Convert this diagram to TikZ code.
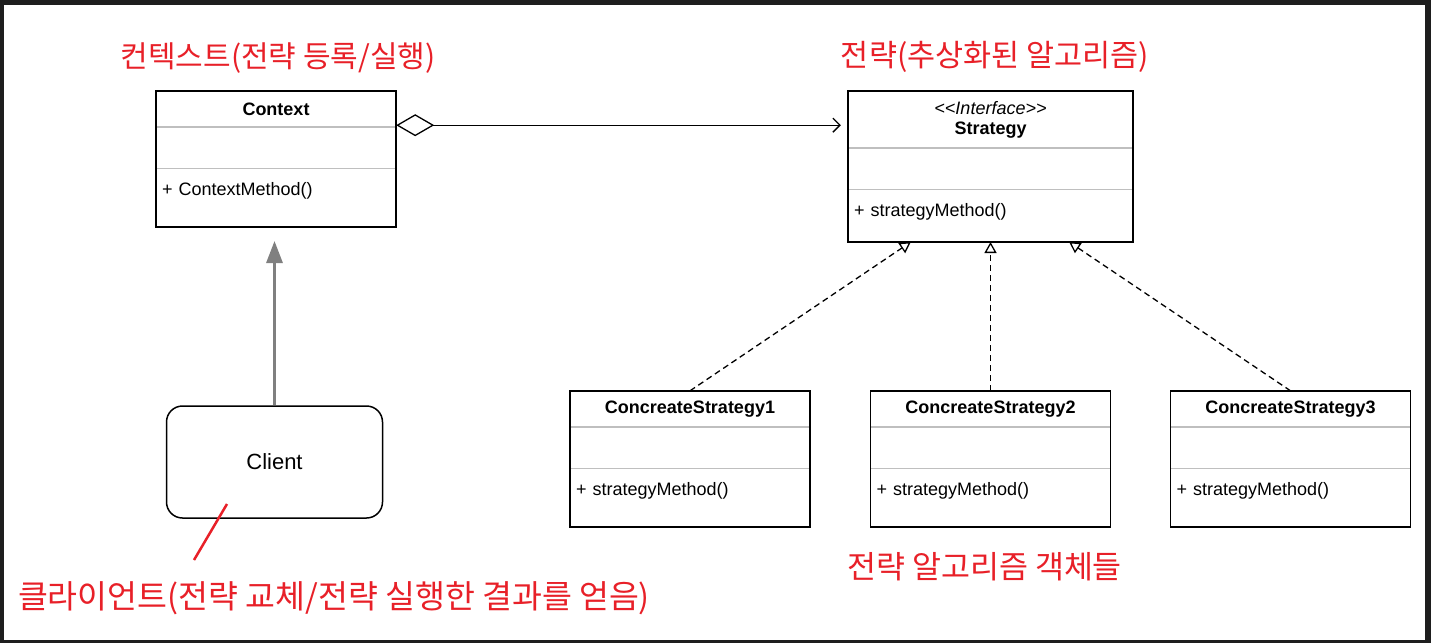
\documentclass[tikz,border=0pt]{standalone}
\usepackage{fontspec}
\setmainfont{Liberation Sans}
\newfontfamily\kofont{Noto Sans CJK KR}
\usepackage{tikz}
\usetikzlibrary{
	positioning,
	arrows.meta
}
\definecolor{penred}{RGB}{232,32,40}
\definecolor{framec}{RGB}{30,30,30}
\tikzset{
	ttl/.style={inner sep=0pt,align=center,font=\bfseries\fontsize{18}{20}\selectfont},
	attr/.style={inner sep=0pt,minimum height=41pt},
	meth/.style={inner xsep=6pt,inner ysep=0pt,align=left,text height=27pt,text depth=#1,font=\fontsize{18}{20}\selectfont},
	meth/.default=31pt,
	box/.style={draw=black,line width=1.5pt},
	sep/.style={draw=gray!50,line width=1.5pt},
	client/.style={draw=black,line width=1.5pt,rounded corners=16pt,minimum width=216pt,minimum height=112pt,font=\fontsize{22}{24}\selectfont},
	aggr/.style={line width=1.3pt,{Diamond[open,length=38pt,width=22pt]}-{Straight Barb[length=7pt,width=14pt]},shorten >=7pt},
	real/.style={line width=1.3pt,dash pattern=on 6pt off 4pt,-{Triangle[open,length=11pt,width=12pt]}},
	gen/.style={draw=gray,line width=3pt,-{Triangle[length=22pt,width=16pt]},shorten >=14pt},
	note/.style={text=penred,font=\kofont\fontsize{#1}{34}\selectfont},
	note/.default=30,
	penline/.style={draw=penred,line width=2.5pt}
}

\begin{document}
\begin{tikzpicture}[x=1pt,y=-1pt]
	\fill[framec] (0,0) rectangle (1431,643);
	\fill[white] (4,5) rectangle (1425,640);

	% Context
	\node[ttl,minimum width=240pt,minimum height=36pt] (ctxt) at (276,109) {Context};
	\node[attr,minimum width=240pt,below=0pt of ctxt] (ctxa) {};
	\node[meth,text width=228pt,below=0pt of ctxa] (ctxm) {+ ContextMethod()};
	\draw[sep] (ctxt.south west) -- (ctxt.south east) (ctxa.south west) -- (ctxa.south east);
	\draw[box] (ctxt.north west) rectangle (ctxm.south east);

	% Strategy
	\node[ttl,minimum width=285pt,minimum height=57pt] (stt) at (990.5,119.5)
		{{\mdseries\itshape <\kern0pt<Interface>\kern0pt>}\\Strategy};
	\node[attr,minimum width=285pt,below=0pt of stt] (sta) {};
	\node[meth=25pt,text width=273pt,below=0pt of sta] (stm) {+ strategyMethod()};
	\draw[sep] (stt.south west) -- (stt.south east) (sta.south west) -- (sta.south east);
	\draw[box] (stt.north west) rectangle (stm.south east);

	% concrete strategies
	\foreach \i/\cx in {1/690,2/990.5,3/1290.5}{
		\node[ttl,minimum width=240pt,minimum height=36pt] (cst\i) at (\cx,409) {ConcreateStrategy\i};
		\node[attr,minimum width=240pt,below=0pt of cst\i] (csa\i) {};
		\node[meth,text width=228pt,below=0pt of csa\i] (csm\i) {+ strategyMethod()};
		\draw[sep] (cst\i.south west) -- (cst\i.south east) (csa\i.south west) -- (csa\i.south east);
		\draw[box] (cst\i.north west) rectangle (csm\i.south east);
	}

	% Client
	\node[client] (cli) at (274.5,462) {Client};

	\draw[aggr] ([yshift=2pt]ctxt.south east) -- ([yshift=2pt]ctxt.south east -| stt.west);
	\draw[gen] (cli.north) -- (cli.north |- ctxm.south);
	\draw[real] (cst1.north) -- ([xshift=63pt]stm.south west);
	\draw[real] (cst2.north) -- (stm.south);
	\draw[real] (cst3.north) -- ([xshift=-64pt]stm.south east);

	% notes
	\node[note] (lctx) at (278,58) {컨텍스트(전략 등록/실행)};
	\node[note=30.5] (lstr) at (995,57) {전략(추상화된 알고리즘)};
	\node[note=31.5] (lcs) at (984.5,567) {전략 알고리즘 객체들};
	\node[note=32.5] (lcli) at (334,598) {클라이언트(전략 교체/전략 실행한 결과를 얻음)};
	\coordinate (pa) at (227,504);
	\coordinate (pb) at (194,560);
	\draw[penline] (pa) -- (pb);
\end{tikzpicture}
\end{document}
